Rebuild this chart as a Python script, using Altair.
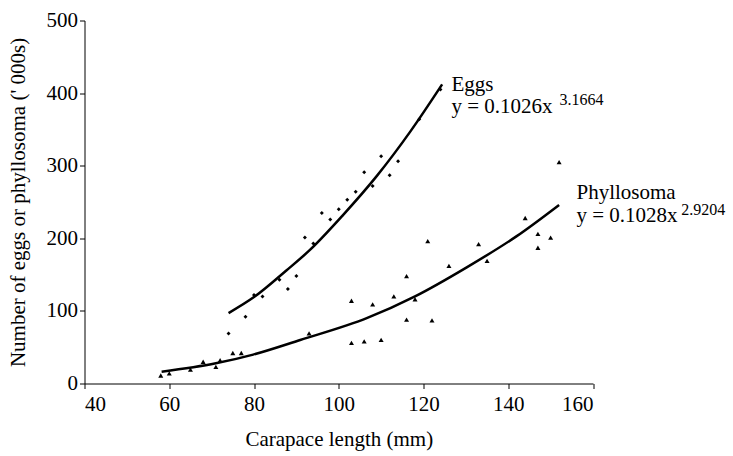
import altair as alt
import pandas as pd

# Eggs (thousands) vs carapace length (mm)
egg_x = [74, 78, 80, 82, 86, 88, 90, 92, 94, 96, 98, 100, 102, 104, 106, 108, 110, 112, 114, 119, 124]
egg_y = [69, 92, 122, 120, 143, 130, 148, 201, 193, 235, 226, 240, 253, 264, 291, 272, 313, 287, 306, 364, 405]

# Phyllosoma (thousands) vs carapace length (mm)
phy_x = [58, 60, 65, 68, 71, 72, 75, 77, 93, 103, 103, 106, 108, 110, 113, 116, 116, 118, 121, 122,
         126, 133, 135, 144, 147, 147, 150, 152]
phy_y = [11, 14, 19, 30, 23, 32, 42, 42, 69, 114, 56, 58, 109, 60, 120, 148, 88, 116, 196, 87,
         162, 192, 169, 228, 206, 187, 201, 305]

# Fitted power-law trend lines
egg_fit_x = [74, 80, 87.7, 93.2, 101, 109, 117, 124.4]
egg_fit_y = [97, 119, 156, 184, 232, 286, 348, 412]
phy_fit_x = [58.2, 71, 79.8, 90.9, 106.6, 118, 130.2, 142, 152]
phy_fit_y = [16.3, 27.8, 39.8, 59.9, 90, 120, 160, 203, 246]

# Annotation labels (data coordinates)
lab_text = ["Eggs", "y = 0.1026x", "Phyllosoma", "y = 0.1028x"]
lab_x = [126.6, 126.6, 156.1, 156.1]
lab_y = [403, 373, 254, 223]
sup_text = ["3.1664", "2.9204"]
sup_x = [152.1, 180.8]
sup_y = [383, 232]

FONT = "Liberation Serif"

eggs = pd.DataFrame({"x": egg_x, "y": egg_y})
phy = pd.DataFrame({"x": phy_x, "y": phy_y})
egg_fit = pd.DataFrame({"x": egg_fit_x, "y": egg_fit_y})
phy_fit = pd.DataFrame({"x": phy_fit_x, "y": phy_fit_y})
labs = pd.DataFrame({"t": lab_text, "x": lab_x, "y": lab_y})
sups = pd.DataFrame({"t": sup_text, "x": sup_x, "y": sup_y})

xs = alt.Scale(domain=[40, 160], nice=False, zero=False)
ys = alt.Scale(domain=[0, 500], nice=False)

X = alt.X("x:Q", scale=xs, title="Carapace length (mm)",
          axis=alt.Axis(values=[40, 60, 80, 100, 120, 140, 160], grid=False,
                        labelPadding=5, titlePadding=14, tickSize=5))
Y = alt.Y("y:Q", scale=ys, title="Number of eggs or phyllosoma (' 000s)",
          axis=alt.Axis(values=[0, 100, 200, 300, 400, 500], grid=False,
                        labelPadding=2, titlePadding=18, tickSize=5))

egg_pts = alt.Chart(eggs).mark_point(filled=True, shape="diamond", size=16,
                                     color="black", opacity=1).encode(x=X, y=Y)
phy_pts = alt.Chart(phy).mark_point(filled=True, shape="triangle-up", size=25,
                                    color="black", opacity=1).encode(x=X, y=Y)
egg_line = alt.Chart(egg_fit).mark_line(color="black", strokeWidth=2.5,
                                        interpolate="monotone").encode(x=X, y=Y)
phy_line = alt.Chart(phy_fit).mark_line(color="black", strokeWidth=2.5,
                                        interpolate="monotone").encode(x=X, y=Y)
labels = alt.Chart(labs).mark_text(align="left", baseline="alphabetic", font=FONT,
                                   fontSize=21, color="black").encode(
    x=X, y=Y, text="t:N")
supers = alt.Chart(sups).mark_text(align="left", baseline="alphabetic", font=FONT,
                                   fontSize=16, color="black").encode(
    x=X, y=Y, text="t:N")

chart = alt.layer(egg_line, phy_line, egg_pts, phy_pts, labels, supers).properties(
    width=508.5, height=363,
    autosize=alt.AutoSizeParams(type="none"),
    padding={"left": 84.5, "top": 20.5, "right": 140, "bottom": 72.5},
    background="white",
).configure_view(stroke=None).configure_axis(
    labelFont=FONT, titleFont=FONT, labelFontSize=21, titleFontSize=21,
    labelColor="black", titleColor="black", domainColor="black", tickColor="black",
    titleFontWeight="normal", domainWidth=1, tickWidth=1,
)

chart.save("out.html", embed_options={"renderer": "svg", "actions": False})
